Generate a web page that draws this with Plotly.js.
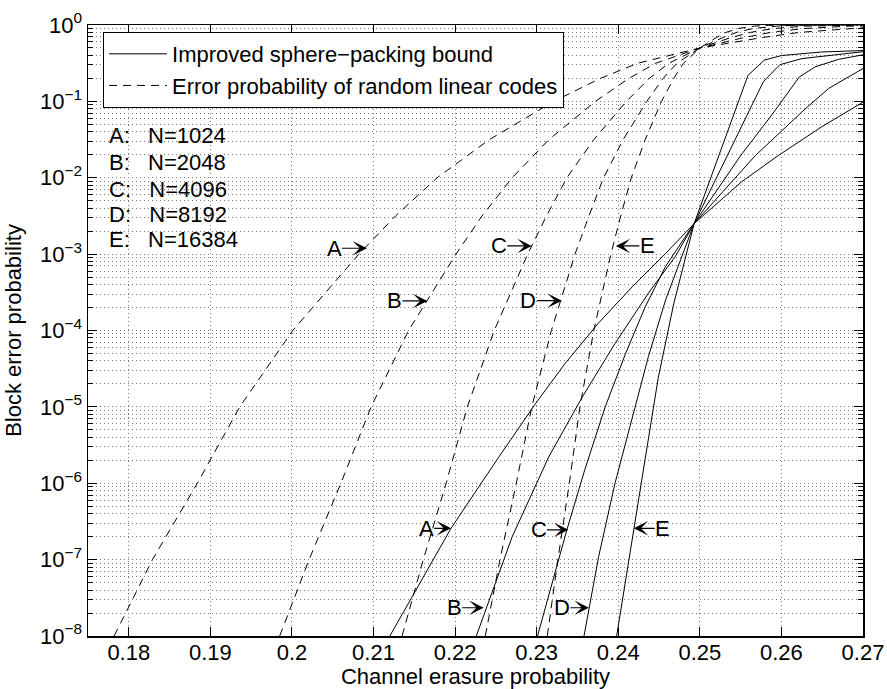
<!DOCTYPE html>
<html>
<head>
<meta charset="utf-8">
<script src="https://cdn.plot.ly/plotly-3.0.1.min.js"></script>
<style>
  html, body { margin: 0; padding: 0; background: #fff; }
  #chart { width: 887px; height: 689px; }
</style>
</head>
<body>
<div id="chart"></div>
<script>
// ---------------- Data ----------------
// Improved sphere-packing bound (solid)
const solidA_x = [0.2120, 0.2168, 0.2195, 0.2254, 0.2299, 0.2335, 0.2376, 0.2417, 0.2458, 0.2493, 0.2551, 0.2596, 0.2649, 0.2700];
const solidA_y = [1e-8, 8.13e-8, 2.57e-7, 2.24e-6, 1.12e-5, 3.72e-5, 1.26e-4, 3.72e-4, 1.02e-3, 2.51e-3, 8.81e-3, 1.95e-2, 4.62e-2, 9.77e-2];

const solidB_x = [0.2226, 0.2270, 0.2315, 0.2356, 0.2396, 0.2437, 0.2470, 0.2493, 0.2568, 0.2629, 0.2658, 0.2700];
const solidB_y = [1e-8, 2.0e-7, 2.24e-6, 1.35e-5, 6.76e-5, 3.09e-4, 9.33e-4, 2.51e-3, 1.95e-2, 7.94e-2, 0.148, 0.269];

const solidC_x = [0.2301, 0.2337, 0.2359, 0.2384, 0.2409, 0.2433, 0.2458, 0.2493, 0.2550, 0.2588, 0.2622, 0.2641, 0.2670, 0.2700];
const solidC_y = [1e-8, 2.45e-7, 1.51e-6, 1e-5, 5.01e-5, 2.04e-4, 6.92e-4, 2.51e-3, 1.95e-2, 6.61e-2, 0.209, 0.282, 0.355, 0.407];

const solidD_x = [0.2358, 0.2376, 0.2396, 0.2417, 0.2437, 0.2458, 0.2493, 0.2578, 0.2598, 0.2625, 0.2700];
const solidD_y = [1e-8, 1.10e-7, 1e-6, 7.41e-6, 4.57e-5, 2.51e-4, 2.51e-3, 0.182, 0.302, 0.363, 0.447];

const solidE_x = [0.2398, 0.2419, 0.2433, 0.2449, 0.2468, 0.2493, 0.2559, 0.2579, 0.2600, 0.2649, 0.2700];
const solidE_y = [1e-8, 2.57e-7, 2.24e-6, 2.40e-5, 2.24e-4, 2.51e-3, 0.219, 0.347, 0.398, 0.443, 0.463];

// Error probability of random linear codes (dashed)
const dashA_x = [0.1782, 0.1829, 0.1884, 0.1936, 0.2001, 0.2082, 0.2127, 0.2178, 0.2242, 0.2321, 0.2378, 0.2424, 0.2500, 0.2576, 0.2622, 0.2679, 0.2700];
const dashA_y = [1e-8, 1e-7, 1e-6, 1e-5, 1e-4, 1e-3, 3.16e-3, 1e-2, 3.16e-2, 0.1, 0.2, 0.316, 0.5, 0.684, 0.8, 0.9, 0.92];

const dashB_x = [0.1985, 0.2021, 0.2060, 0.2097, 0.2143, 0.2201, 0.2233, 0.2270, 0.2315, 0.2372, 0.2413, 0.2446, 0.2500, 0.2554, 0.2587, 0.2628, 0.2685, 0.2700];
const dashB_y = [1e-8, 1e-7, 1e-6, 1e-5, 1e-4, 1e-3, 3.16e-3, 1e-2, 3.16e-2, 0.1, 0.2, 0.316, 0.5, 0.684, 0.8, 0.9, 0.968, 0.975];

const dashC_x = [0.2135, 0.2161, 0.2189, 0.2215, 0.2248, 0.2289, 0.2312, 0.2337, 0.2370, 0.2410, 0.2438, 0.2462, 0.2500, 0.2538, 0.2562, 0.2590, 0.2630, 0.2663, 0.2700];
const dashC_y = [1e-8, 1e-7, 1e-6, 1e-5, 1e-4, 1e-3, 3.16e-3, 1e-2, 3.16e-2, 0.1, 0.2, 0.316, 0.5, 0.684, 0.8, 0.9, 0.968, 0.99, 0.997];

const dashD_x = [0.2237, 0.2255, 0.2275, 0.2294, 0.2318, 0.2347, 0.2364, 0.2382, 0.2406, 0.2435, 0.2455, 0.2472, 0.2500, 0.2528, 0.2545, 0.2565, 0.2594, 0.2618, 0.2700];
const dashD_y = [1e-8, 1e-7, 1e-6, 1e-5, 1e-4, 1e-3, 3.16e-3, 1e-2, 3.16e-2, 0.1, 0.2, 0.316, 0.5, 0.684, 0.8, 0.9, 0.968, 0.99, 0.9995];

const dashE_x = [0.2313, 0.2326, 0.2340, 0.2353, 0.2370, 0.2391, 0.2403, 0.2416, 0.2433, 0.2453, 0.2468, 0.2480, 0.2500, 0.2520, 0.2532, 0.2547, 0.2567, 0.2584, 0.2700];
const dashE_y = [1e-8, 1e-7, 1e-6, 1e-5, 1e-4, 1e-3, 3.16e-3, 1e-2, 3.16e-2, 0.1, 0.2, 0.316, 0.5, 0.684, 0.8, 0.9, 0.968, 0.99, 0.99995];

// Series labels
const seriesLetters = ['A', 'B', 'C', 'D', 'E'];
const blockLengths = [1024, 2048, 4096, 8192, 16384];
const legendNames = ['Improved sphere\u2212packing bound', 'Error probability of random linear codes'];

// Tick labels
const xTickVals = [0.18, 0.19, 0.20, 0.21, 0.22, 0.23, 0.24, 0.25, 0.26, 0.27];
const xTickText = ['0.18', '0.19', '0.2', '0.21', '0.22', '0.23', '0.24', '0.25', '0.26', '0.27'];
const yTickVals = [1e-8, 1e-7, 1e-6, 1e-5, 1e-4, 1e-3, 1e-2, 1e-1, 1];
const yTickText = ['10<sup>\u22128</sup>', '10<sup>\u22127</sup>', '10<sup>\u22126</sup>', '10<sup>\u22125</sup>',
                   '10<sup>\u22124</sup>', '10<sup>\u22123</sup>', '10<sup>\u22122</sup>', '10<sup>\u22121</sup>', '10<sup>0</sup>'];

// Arrow label tips (x, log10 y) for the dashed curves and for the solid curves
const dashTipX = [0.2092, 0.2166, 0.2294, 0.2331, 0.2397];
const dashTipLogY = [-2.923, -3.613, -2.893, -3.609, -2.893];
const solidTipX = [0.2195, 0.2235, 0.2339, 0.2364, 0.2419];
const solidTipLogY = [-6.59, -7.63, -6.61, -7.63, -6.59];

// ---------------- Styling / layout ----------------
const FONT = 'Liberation Sans, Arial, Helvetica, sans-serif';
const DASH = '8px,6px';

const solidSets = [[solidA_x, solidA_y], [solidB_x, solidB_y], [solidC_x, solidC_y], [solidD_x, solidD_y], [solidE_x, solidE_y]];
const dashSets = [[dashA_x, dashA_y], [dashB_x, dashB_y], [dashC_x, dashC_y], [dashD_x, dashD_y], [dashE_x, dashE_y]];

const traces = [];
solidSets.forEach((s, i) => traces.push({
  x: s[0], y: s[1], type: 'scatter', mode: 'lines',
  name: legendNames[0], showlegend: i === 0, legendgroup: 'isp',
  line: {color: 'black', width: 1}, hoverinfo: 'skip'
}));
dashSets.forEach((s, i) => traces.push({
  x: s[0], y: s[1], type: 'scatter', mode: 'lines',
  name: legendNames[1], showlegend: i === 0, legendgroup: 'rlc',
  line: {color: 'black', width: 1, dash: DASH}, hoverinfo: 'skip'
}));

// minor log ticks 2..9 x 10^k
const minorVals = [];
for (let k = -8; k < 0; k++) for (let m = 2; m <= 9; m++) minorVals.push(m * Math.pow(10, k));

const annotations = [];
// N = ... list
const listY = [0.8192, 0.7750, 0.7308, 0.6898, 0.6489];
seriesLetters.forEach((L, i) => annotations.push({
  xref: 'paper', yref: 'paper', x: 0.0245, y: listY[i], xanchor: 'left', yanchor: 'middle',
  text: L + ':\u00A0\u00A0\u00A0N=' + blockLengths[i], showarrow: false,
  font: {family: FONT, size: 22, color: 'black'}
}));
// arrows
const dashAx = [-33, -33, -33, -33.5, 31.5];
const solidAx = [-25, -29.5, -30, -27, 29];
function arrowAnn(letter, x, ly, ax) {
  return {
    xref: 'x', yref: 'y', x: x, y: ly, ax: ax, ay: 0, text: letter,
    showarrow: true, arrowhead: 3, arrowsize: 2.0, arrowwidth: 1.2, arrowcolor: 'black',
    standoff: 0, borderpad: 0, font: {family: FONT, size: 22, color: 'black'}
  };
}
seriesLetters.forEach((L, i) => annotations.push(arrowAnn(L, dashTipX[i], dashTipLogY[i], dashAx[i])));
seriesLetters.forEach((L, i) => annotations.push(arrowAnn(L, solidTipX[i], solidTipLogY[i], solidAx[i])));

const gridColor = '#7a7a7a';
const layout = {
  width: 887, height: 689,
  margin: {l: 88, r: 24, t: 25, b: 53, pad: 0},
  paper_bgcolor: 'white', plot_bgcolor: 'white',
  font: {family: FONT, size: 22, color: 'black'},
  showlegend: true,
  legend: {
    x: 0.0194, y: 0.9885, xanchor: 'left', yanchor: 'top',
    bgcolor: 'white', bordercolor: 'black', borderwidth: 1,
    font: {family: FONT, size: 22, color: 'black'},
    itemwidth: 58, tracegroupgap: 0,
    entrywidth: 470, entrywidthmode: 'pixels'
  },
  xaxis: {
    range: [0.175, 0.27], tickmode: 'array', tickvals: xTickVals, ticktext: xTickText,
    ticks: 'inside', ticklen: 9, tickwidth: 1, tickcolor: 'black',
    showline: true, linecolor: 'black', linewidth: 1.5, mirror: 'ticks',
    showgrid: true, gridcolor: gridColor, griddash: '1px,3px', gridwidth: 1, zeroline: false,
    tickfont: {family: FONT, size: 22, color: 'black'}, ticklabelstandoff: -4,
    title: {text: 'Channel erasure probability', font: {family: FONT, size: 22, color: 'black'}, standoff: 4}
  },
  yaxis: {
    type: 'log', range: [-8, 0], tickmode: 'array', tickvals: yTickVals, ticktext: yTickText,
    ticks: 'inside', ticklen: 9, tickwidth: 1, tickcolor: 'black',
    showline: true, linecolor: 'black', linewidth: 1.5, mirror: 'ticks',
    showgrid: true, gridcolor: gridColor, griddash: '1px,3px', gridwidth: 1, zeroline: false,
    tickfont: {family: FONT, size: 22, color: 'black'},
    minor: {tickmode: 'array', tickvals: minorVals, ticks: 'inside', ticklen: 5, tickcolor: 'black',
            showgrid: true, gridcolor: gridColor, griddash: '1px,3px', gridwidth: 1},
    title: {text: 'Block error probability', font: {family: FONT, size: 22, color: 'black'}, standoff: 12}
  },
  annotations: annotations,
  hovermode: false
};

Plotly.newPlot('chart', traces, layout, {staticPlot: true, displayModeBar: false});
</script>
</body>
</html>
